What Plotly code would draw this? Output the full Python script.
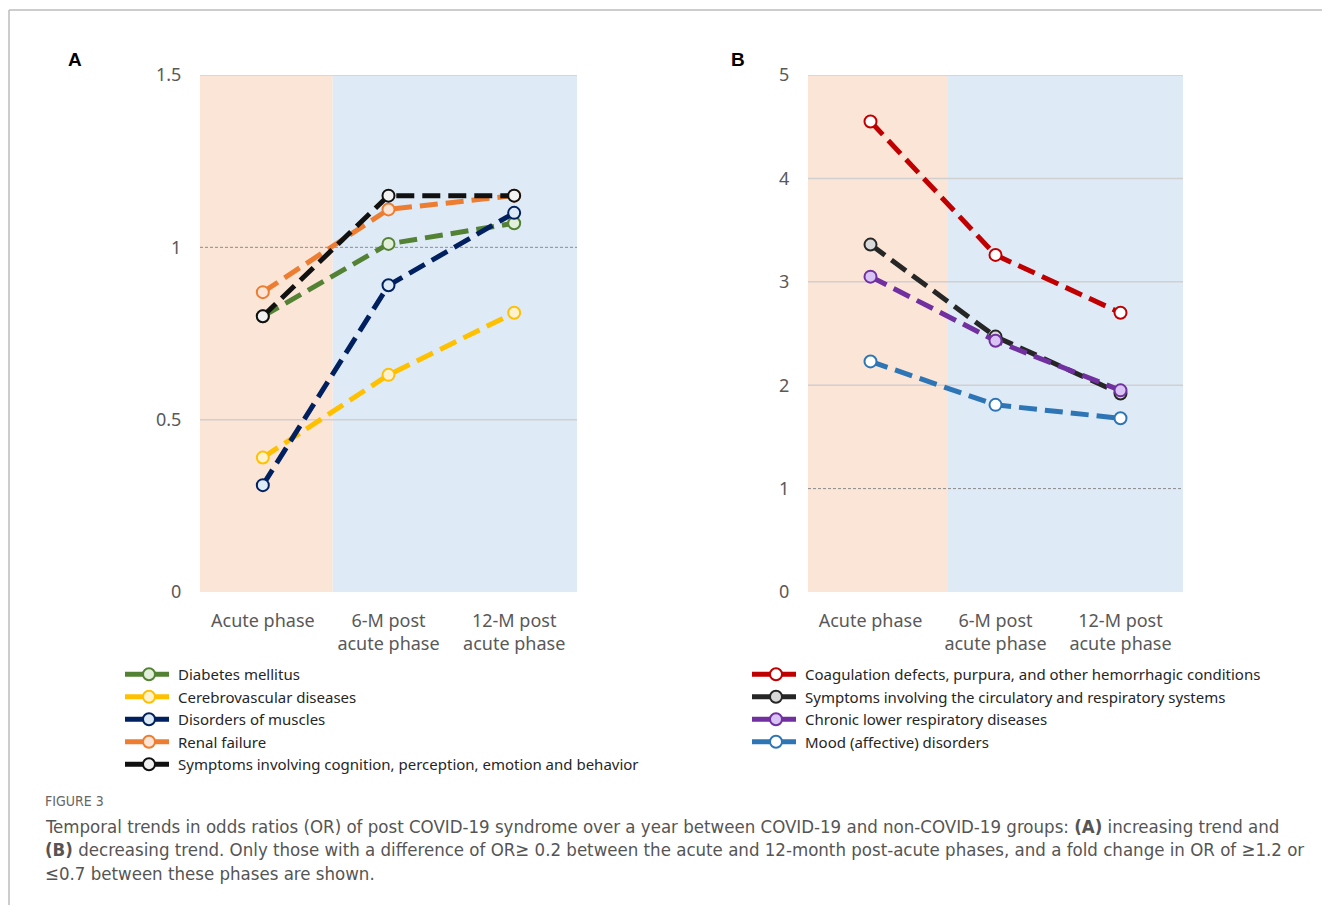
import plotly.graph_objects as go

W, H = 1322, 905

# ---------------- data ----------------
phases = ["Acute phase", "6-M post<br>acute phase", "12-M post<br>acute phase"]

a_names = ["Diabetes mellitus", "Cerebrovascular diseases", "Disorders of muscles",
           "Renal failure", "Symptoms involving cognition, perception, emotion and behavior"]
diabetes = [0.80, 1.01, 1.07]
cerebrovascular = [0.39, 0.63, 0.81]
muscles = [0.31, 0.89, 1.10]
renal = [0.87, 1.11, 1.15]
cognition = [0.80, 1.15, 1.15]

b_names = ["Coagulation defects, purpura, and other hemorrhagic conditions",
           "Symptoms involving the circulatory and respiratory systems",
           "Chronic lower respiratory diseases",
           "Mood (affective) disorders"]
coagulation = [4.55, 3.26, 2.70]
circulatory = [3.36, 2.47, 1.92]
respiratory = [3.05, 2.43, 1.95]
mood = [2.23, 1.81, 1.68]

a_ticks = [0, 0.5, 1, 1.5]
a_ticktext = ["0", "0.5", "1", "1.5"]
b_ticks = [0, 1, 2, 3, 4, 5]
a_grid = [0.5, 1.5]
b_grid = [2, 3, 4, 5]

# ---------------- styles ----------------
a_colors = ["#548235", "#FFC000", "#002060", "#ED7D31", "#111111"]
a_fills = ["#E2EFDA", "#FFF2CC", "#DDEBF7", "#FCE4D6", "#F2F2F2"]
b_colors = ["#C00000", "#262626", "#7030A0", "#2E75B6"]
b_fills = ["#FFFFFF", "#D9D9D9", "#D9C3F5", "#FFFFFF"]

PEACH = "#FBE5D6"
LBLUE = "#DEEBF7"
TXT = "#595959"
DASH = "18px,8px"
CAP_FONT = "Liberation Sans Narrow, DejaVu Sans Condensed, Liberation Sans"

fig = go.Figure()

a_series = [diabetes, cerebrovascular, muscles, renal, cognition]
for name, vals, c, f in zip(a_names, a_series, a_colors, a_fills):
    fig.add_trace(go.Scatter(
        x=phases, y=vals, name=name, mode="lines+markers",
        line=dict(color=c, width=5, dash=DASH),
        marker=dict(symbol="circle", size=12, color=f, line=dict(color=c, width=2)),
        xaxis="x", yaxis="y", legend="legend"))

b_series = [coagulation, circulatory, respiratory, mood]
for name, vals, c, f in zip(b_names, b_series, b_colors, b_fills):
    fig.add_trace(go.Scatter(
        x=phases, y=vals, name=name, mode="lines+markers",
        line=dict(color=c, width=5, dash=DASH),
        marker=dict(symbol="circle", size=12, color=f, line=dict(color=c, width=2)),
        xaxis="x2", yaxis="y2", legend="legend2"))

shapes = []
# background phase shading
for xr, yr, split in (("x", "y", 0.556), ("x2", "y2", 0.62)):
    shapes.append(dict(type="rect", xref=xr, yref=yr + " domain", x0=-0.5, x1=split, y0=0, y1=1,
                       fillcolor=PEACH, line=dict(width=0), layer="below"))
    shapes.append(dict(type="rect", xref=xr, yref=yr + " domain", x0=split, x1=2.5, y0=0, y1=1,
                       fillcolor=LBLUE, line=dict(width=0), layer="below"))
# gridlines
for g in a_grid:
    shapes.append(dict(type="line", xref="x domain", yref="y", x0=0, x1=1, y0=g, y1=g,
                       line=dict(color="#D0D0D0", width=1.5), layer="below"))
for g in b_grid:
    shapes.append(dict(type="line", xref="x2 domain", yref="y2", x0=0, x1=1, y0=g, y1=g,
                       line=dict(color="#D0D0D0", width=1.5), layer="below"))
# reference line at OR = 1
for xr, yr in (("x domain", "y"), ("x2 domain", "y2")):
    shapes.append(dict(type="line", xref=xr, yref=yr, x0=0, x1=1, y0=1, y1=1,
                       line=dict(color="#8C8C8C", width=1, dash="3px,2px"), layer="below"))
# outer frame
shapes.append(dict(type="line", xref="paper", yref="paper", x0=9 / W, x1=1, y0=1 - 10 / H, y1=1 - 10 / H,
                   line=dict(color="#BDBDBD", width=1.5)))
shapes.append(dict(type="line", xref="paper", yref="paper", x0=9 / W, x1=9 / W, y0=0, y1=1 - 10 / H,
                   line=dict(color="#BDBDBD", width=1.5)))

ydom = [1 - 592 / H, 1 - 75 / H]
axis_font = dict(family="Noto Sans", size=18, color=TXT)
common_x = dict(type="category", range=[-0.5, 2.5], showgrid=False, zeroline=False, showline=False,
                ticks="outside", ticklen=12, tickcolor="rgba(0,0,0,0)", tickfont=axis_font,
                fixedrange=True)
common_y = dict(showgrid=False, zeroline=False, showline=False, ticks="outside", ticklen=14,
                tickcolor="rgba(0,0,0,0)", tickfont=axis_font, fixedrange=True)

annotations = [
    dict(text="<b>A</b>", x=75 / W, y=1 - 59 / H, xref="paper", yref="paper", showarrow=False,
         xanchor="center", yanchor="middle",
         font=dict(family="Liberation Sans", size=19, color="#000")),
    dict(text="<b>B</b>", x=738 / W, y=1 - 59 / H, xref="paper", yref="paper", showarrow=False,
         xanchor="center", yanchor="middle",
         font=dict(family="Liberation Sans", size=19, color="#000")),
    dict(text="FIGURE 3", x=43 / W, y=1 - 801 / H, xref="paper", yref="paper", showarrow=False,
         xanchor="left", yanchor="middle", font=dict(family=CAP_FONT, size=14, color="#666")),
]
caption = [
    "Temporal trends in odds ratios (OR) of post COVID-19 syndrome over a year between COVID-19 and non-COVID-19 groups: <b>(A)</b> increasing trend and",
    "<b>(B)</b> decreasing trend. Only those with a difference of OR\u2265 0.2 between the acute and 12-month post-acute phases, and a fold change in OR of \u22651.2 or",
    "\u22640.7 between these phases are shown.",
]
for i, line in enumerate(caption):
    annotations.append(dict(text=line, x=43 / W, y=1 - (826 + 23.5 * i) / H, xref="paper", yref="paper",
                            showarrow=False, xanchor="left", yanchor="middle",
                            font=dict(family=CAP_FONT, size=18.5, color="#555")))

legend_font = dict(family="Noto Sans", size=15, color="#262626")
fig.update_layout(
    width=W, height=H, autosize=False,
    margin=dict(l=0, r=0, t=0, b=0, autoexpand=False),
    paper_bgcolor="white", plot_bgcolor="rgba(0,0,0,0)",
    xaxis=dict(domain=[200 / W, 577 / W], anchor="y", **common_x),
    yaxis=dict(domain=ydom, anchor="x", range=[0, 1.5], tickvals=a_ticks, ticktext=a_ticktext, **common_y),
    xaxis2=dict(domain=[808 / W, 1183 / W], anchor="y2", **common_x),
    yaxis2=dict(domain=ydom, anchor="x2", range=[0, 5], tickvals=b_ticks, **common_y),
    legend=dict(x=120 / W, y=1 - 658 / H, xanchor="left", yanchor="top", font=legend_font,
                bgcolor="rgba(0,0,0,0)", tracegroupgap=0, itemwidth=48),
    legend2=dict(x=747 / W, y=1 - 658 / H, xanchor="left", yanchor="top", font=legend_font,
                 bgcolor="rgba(0,0,0,0)", tracegroupgap=0, itemwidth=48),
    shapes=shapes, annotations=annotations, showlegend=True,
)

fig.write_html("out.html", config={"displayModeBar": False},
               post_script="document.body.style.margin='0px';document.body.style.overflow='hidden';")
